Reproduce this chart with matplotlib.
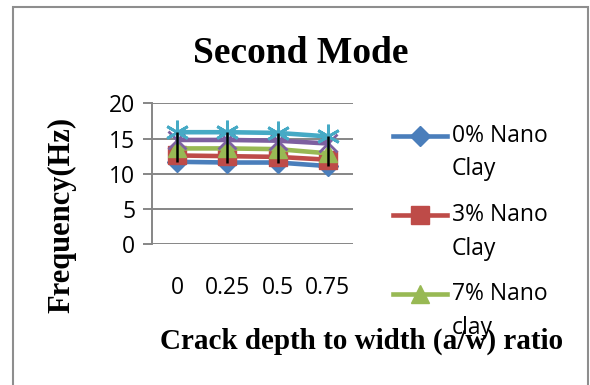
import matplotlib
matplotlib.use("Agg")
import matplotlib.pyplot as plt
from matplotlib.lines import Line2D
from matplotlib.patches import Rectangle

# Crack depth ratio categories
categories = ["0", "0.25", "0.5", "0.75"]

# Second-mode natural frequencies (Hz) per nano clay content
freq_0 = [11.7, 11.6, 11.6, 11.1]
freq_3 = [12.6, 12.5, 12.4, 12.0]
freq_7 = [13.6, 13.6, 13.5, 12.9]
freq_d = [14.8, 14.8, 14.7, 14.3]
freq_e = [15.9, 15.9, 15.8, 15.3]

legend_labels = ["0% Nano\nClay", "3% Nano\nClay", "7% Nano\nclay"]
y_ticks = [0, 5, 10, 15, 20]

W, H = 590, 385
fig = plt.figure(figsize=(W / 100, H / 100), dpi=100)


def fx(px):
    return px / W


def fy(py):
    return 1 - py / H


SANS = "Open Sans"
SERIF = "Liberation Serif"
GRID = "#868686"

ax = fig.add_axes([fx(152), fy(244.3), fx(353) - fx(152), fy(103.3) - fy(244.3)])

styles = [
    dict(color="#4A7EBB", marker="D", ms=10),
    dict(color="#BE4B48", marker="s", ms=12.5),
    dict(color="#98B954", marker="^", ms=13),
    dict(color="#7D60A0", marker="x", ms=13, mew=2),
    dict(color="#46AAC5", marker=(6, 2, 0), ms=17, mew=2),
]
series = [freq_0, freq_3, freq_7, freq_d, freq_e]
x = list(range(len(categories)))

handles = []
for vals, st in zip(series, styles):
    (ln,) = ax.plot(x, vals, lw=3.3, color=st["color"], marker=st["marker"],
                    ms=st["ms"], mew=st.get("mew", 1), mfc=st["color"],
                    mec=st["color"], solid_capstyle="butt", zorder=3)
    handles.append(ln)

# High-low lines
lows = [min(v) for v in zip(*series)]
highs = [max(v) for v in zip(*series)]
ax.vlines(x, lows, highs, colors="black", lw=1.8, zorder=5)

ax.set_xlim(-0.5, len(categories) - 0.5)
ax.set_ylim(0, 20)
ax.set_yticks(y_ticks)
ax.set_xticks(x, categories)
ax.yaxis.grid(True, color=GRID, lw=1.4)
ax.set_axisbelow(True)
for s in ["top", "right", "bottom"]:
    ax.spines[s].set_visible(False)
ax.spines["left"].set_color(GRID)
ax.spines["left"].set_linewidth(1.4)
ax.tick_params(axis="y", direction="out", length=6.5, width=1.4, color=GRID,
               pad=5.5, labelsize=16.5)
ax.tick_params(axis="x", length=0, pad=23, labelsize=16.5)
for lab in ax.get_xticklabels() + ax.get_yticklabels():
    lab.set_fontfamily(SANS)

# Legend (first three series)
legend_y = [135.5, 215, 294]
for h, lab, py in zip(handles, legend_labels, legend_y):
    ln = Line2D([fx(393), fx(420), fx(447)], [fy(py)] * 3, transform=fig.transFigure,
                color=h.get_color(), lw=3.3, marker=h.get_marker(),
                ms=h.get_markersize(), mfc=h.get_color(), mec=h.get_color(),
                mew=h.get_markeredgewidth(), markevery=[1])
    fig.add_artist(ln)
    fig.text(fx(452), fy(py - 12), lab, ha="left", va="top", fontsize=16.5,
             family=SANS, linespacing=1.55)

fig.text(fx(301), fy(63), "Second Mode", ha="center", va="baseline",
         family=SERIF, fontweight="bold", fontsize=27)
fig.text(fx(362), fy(349), "Crack depth to width (a/w) ratio", ha="center",
         va="baseline", family=SERIF, fontweight="bold", fontsize=21, zorder=10)
fig.text(fx(62), fy(215), "Frequency(Hz)", ha="center", va="center", rotation=90,
         family=SERIF, fontweight="bold", fontsize=22)

fig.add_artist(Rectangle((fx(13), -0.05), fx(588) - fx(13), fy(7) + 0.05,
                         transform=fig.transFigure, fill=False,
                         edgecolor="#8E8E8E", lw=1.5))

fig.savefig("out.png", dpi=100, facecolor="white")
